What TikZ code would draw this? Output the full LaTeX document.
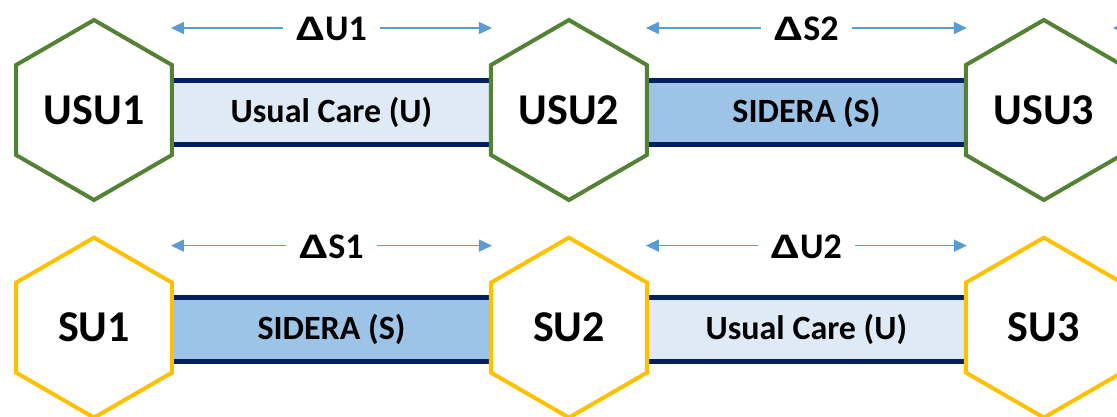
\documentclass[tikz,border=0pt]{standalone}
\usepackage{fontspec}
\usepackage{graphicx}
\setmainfont{Carlito}
\usetikzlibrary{arrows.meta}
\usetikzlibrary{positioning}
\usetikzlibrary{shapes.geometric}
\usetikzlibrary{backgrounds}
\usetikzlibrary{calc}
\definecolor{hexgreen}{HTML}{548235}
\definecolor{hexyellow}{HTML}{FFC000}
\definecolor{barnavy}{HTML}{002060}
\definecolor{ucfill}{HTML}{DEEBF7}
\definecolor{sfill}{HTML}{9DC3E6}
\definecolor{spanblue}{HTML}{5B9BD5}
\newcommand{\bigdelta}{\scalebox{1.4}[1]{Δ}}

\begin{document}
\begin{tikzpicture}[x=1pt, y=-1pt,
	hexa/.style={regular polygon, regular polygon sides=6, shape border rotate=30,
		minimum size=180pt, inner sep=0pt, line width=4pt, fill=white,
		font=\fontsize{44}{50}\selectfont\bfseries},
	usu/.style={hexa, draw=hexgreen},
	su/.style={hexa, draw=hexyellow},
	delta/.style={font=\fontsize{36}{40}\selectfont\bfseries, inner xsep=13pt, inner ysep=0pt},
	span/.style={spanblue, line width=1.5pt, shorten >=-3pt,
		-{Triangle[length=13pt,width=12pt]}},
	armtext/.style={font=\fontsize{34}{36}\selectfont\bfseries, inner sep=0pt},
	arm/.style={line width=5pt, draw=barnavy}]

	\clip[use as bounding box] (0,0) rectangle (1117,416);

	% hexagons, top row (green) and bottom row (yellow)
	\node[usu] (USU1) at (94,110) {USU1};
	\node[usu, right=315pt of USU1] (USU2) {USU2};
	\node[usu, right=315pt of USU2] (USU3) {USU3};
	\node[su, below=33pt of USU1] (SU1) {SU1};
	\node[su, below=33pt of USU2] (SU2) {SU2};
	\node[su, below=33pt of USU3] (SU3) {SU3};

	% arms between the visits
	\begin{scope}[on background layer]
	\foreach \a/\b/\f/\t [count=\i] in {USU1/USU2/ucfill/{Usual Care (U)},
		USU2/USU3/sfill/{SIDERA (S)}, SU1/SU2/sfill/{SIDERA (S)},
		SU2/SU3/ucfill/{Usual Care (U)}}
	{
		\fill[\f] ([yshift=30pt]\a.east) rectangle ([yshift=-34pt]\b.west);
		\draw[arm] ([yshift=30pt]\a.east) -- ([yshift=30pt]\b.west);
		\draw[arm] ([yshift=-34pt]\a.east) -- ([yshift=-34pt]\b.west);
		\node[armtext] (arm\i) at ([yshift=-2pt]$(\a.east)!.5!(\b.west)$) {\t};
	}
	\end{scope}

	% change labels with spans
	\foreach \a/\b/\t in {USU1/USU2/U1, USU2/USU3/S2, SU1/SU2/S1, SU2/SU3/U2}
	{
		\node[delta] (d\t) at ([yshift=81pt]$(\a.east)!.5!(\b.west)$) {\bigdelta\t};
		\draw[span] ([yshift=1pt]d\t.west) -- ([yshift=1pt]d\t.west -| \a.east);
		\draw[span] ([yshift=1pt]d\t.east) -- ([yshift=1pt]d\t.east -| \b.west);
	}

	% start of the next span, cut off at the edge
	\coordinate (nexttip) at ([xshift=-8pt,yshift=1pt]dU1.west -| USU3.east);
	\draw[span] ([xshift=40pt]nexttip) -- (nexttip);

\end{tikzpicture}
\end{document}
